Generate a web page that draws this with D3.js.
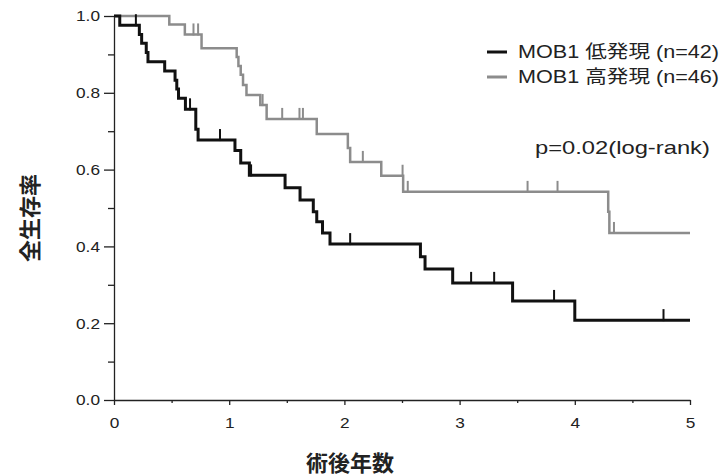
<!DOCTYPE html>
<html lang="ja">
<head>
<meta charset="UTF-8">
<title>MOB1 survival</title>
<style>
  body { margin: 0; background: #fff; }
  svg { display: block; }
</style>
</head>
<body>
<div id="chart"></div>
<script src="https://d3js.org/d3.v7.min.js"></script>
<script>
// datos (años, supervivencia)
const lowTimes = [0, 0.05, 0.22, 0.24, 0.28, 0.295, 0.44, 0.53, 0.545, 0.56, 0.62, 0.71, 0.73, 1.05, 1.10, 1.175, 1.485, 1.615, 1.73, 1.76, 1.81, 1.875, 2.66, 2.70, 2.94, 3.46, 4.0, 5.0];
const lowSurv  = [1.0, 0.976, 0.952, 0.929, 0.905, 0.881, 0.857, 0.833, 0.81, 0.786, 0.757, 0.705, 0.677, 0.65, 0.617, 0.585, 0.553, 0.521, 0.49, 0.464, 0.435, 0.406, 0.373, 0.341, 0.305, 0.258, 0.208, 0.208];
const lowCensor = [0.19, 0.66, 0.92, 1.19, 2.05, 3.10, 3.30, 3.82, 4.77];

const highTimes = [0, 0.48, 0.615, 0.76, 1.065, 1.08, 1.10, 1.12, 1.15, 1.27, 1.325, 1.76, 2.03, 2.05, 2.32, 2.51, 4.29, 4.30, 5.0];
const highSurv  = [1.0, 0.978, 0.952, 0.916, 0.893, 0.87, 0.847, 0.82, 0.794, 0.768, 0.732, 0.693, 0.656, 0.62, 0.584, 0.542, 0.49, 0.435, 0.435];
const highCensor = [0.69, 0.73, 1.29, 1.46, 1.61, 1.64, 2.16, 2.505, 2.55, 3.59, 3.85, 4.34];

const seriesNames = ["MOB1 低発現 (n=42)", "MOB1 高発現 (n=46)"];
const xTicks = [0, 1, 2, 3, 4, 5];
const xMinor = [0.5, 1.5, 2.5, 3.5, 4.5];
const yTicks = [0, 0.2, 0.4, 0.6, 0.8, 1.0];
const yMinor = [0.1, 0.3, 0.5, 0.7, 0.9];

const W = 727, H = 476;
const STRETCH = 1.15;   // el original está algo ensanchado
const BLACK = "#111", GRAY = "#8c8c8c";

const x = d3.scaleLinear().domain([0, 5]).range([114, 690]);
const y = d3.scaleLinear().domain([0, 1]).range([400, 16]);

const svg = d3.select("#chart").append("svg")
  .attr("width", W).attr("height", H);

// ejes
const gy = svg.append("g").attr("transform", `translate(${x(0)},0)`)
  .call(d3.axisLeft(y).tickValues(yTicks).tickSize(10).tickSizeOuter(0)
    .tickPadding(4).tickFormat(d3.format(".1f")));
svg.append("g").attr("transform", `translate(${x(0)},0)`)
  .call(d3.axisLeft(y).tickValues(yMinor).tickSize(6).tickSizeOuter(0).tickFormat(""))
  .select(".domain").remove();

const gx = svg.append("g").attr("transform", `translate(0,${y(0)})`)
  .call(d3.axisBottom(x).tickValues(xTicks).tickSize(5).tickSizeOuter(0)
    .tickPadding(12).tickFormat(d3.format("d")));
svg.append("g").attr("transform", `translate(0,${y(0)})`)
  .call(d3.axisBottom(x).tickValues(xMinor).tickSize(3).tickSizeOuter(0).tickFormat(""))
  .select(".domain").remove();

svg.selectAll(".domain, .tick line").attr("stroke", "#222").attr("stroke-width", 1.3);

gy.selectAll(".tick text")
  .attr("x", 0)
  .attr("transform", "translate(-14,0) scale(" + STRETCH + ",1)")
  .style("font", "15px 'Liberation Sans', Arial, sans-serif").attr("fill", "#222");
gx.selectAll(".tick text")
  .attr("transform", "scale(" + STRETCH + ",1)")
  .style("font", "15px 'Liberation Sans', Arial, sans-serif").attr("fill", "#222");

// títulos
svg.append("text")
  .attr("transform", "translate(30,218) rotate(-90)")
  .attr("text-anchor", "middle").attr("dy", "0.35em")
  .style("font", "bold 22px 'Noto Sans CJK JP', sans-serif").attr("fill", "#222")
  .text("全生存率");
svg.append("text")
  .attr("x", 350).attr("y", 463)
  .attr("text-anchor", "middle").attr("dy", "0.35em")
  .style("font", "bold 22px 'Noto Sans CJK JP', sans-serif").attr("fill", "#222")
  .text("術後年数");

// curvas KM
const line = d3.line().curve(d3.curveStepAfter)
  .x(d => x(d[0])).y(d => y(d[1]));

function survAt(times, surv, t) {
  const i = d3.bisectRight(times, t) - 1;
  return surv[Math.max(0, i)];
}

function drawCurve(times, surv, censor, color, width) {
  const pts = times.map((t, i) => [t, surv[i]]);
  svg.append("path").datum(pts)
    .attr("d", line)
    .attr("fill", "none").attr("stroke", color)
    .attr("stroke-width", width).attr("stroke-linejoin", "miter");
  svg.append("g").selectAll("line").data(censor).enter().append("line")
    .attr("x1", d => x(d)).attr("x2", d => x(d))
    .attr("y1", d => y(survAt(times, surv, d)) + 1)
    .attr("y2", d => y(survAt(times, surv, d)) - 11)
    .attr("stroke", color).attr("stroke-width", 2);
}

drawCurve(highTimes, highSurv, highCensor, GRAY, 2.5);
drawCurve(lowTimes, lowSurv, lowCensor, BLACK, 3);

// leyenda
const legend = svg.append("g");
[BLACK, GRAY].forEach((c, i) => {
  const ly = 52 + i * 25;
  legend.append("line")
    .attr("x1", 487).attr("x2", 507).attr("y1", ly).attr("y2", ly)
    .attr("stroke", c).attr("stroke-width", 3);
  legend.append("text")
    .attr("transform", `translate(518,${ly}) scale(1.2,1)`)
    .attr("dy", "0.36em")
    .style("font", "18px 'Liberation Sans', 'Noto Sans CJK JP', sans-serif").attr("fill", "#222")
    .text(seriesNames[i]);
});

svg.append("text")
  .attr("transform", "translate(535,147) scale(1.25,1)")
  .attr("dy", "0.36em")
  .style("font", "19px 'Liberation Sans', sans-serif").attr("fill", "#222")
  .text("p=0.02(log-rank)");
</script>
</body>
</html>
